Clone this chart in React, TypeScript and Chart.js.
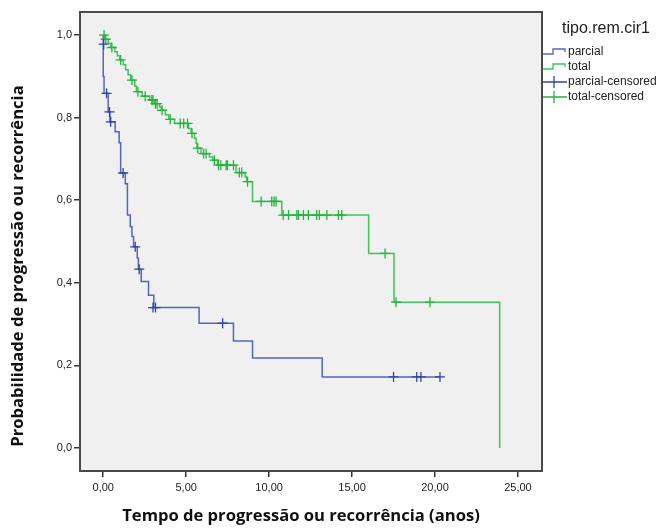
import React, { useEffect, useRef } from "react";
import { Chart, registerables } from "chart.js";

Chart.register(...registerables);

// ---- Data ----
// Kaplan–Meier steps: time of event and survival after it
const PARCIAL_T = [0, 0, 0.05, 0.3, 0.4, 0.72, 0.96, 1.05, 1.33, 1.46, 1.63, 1.73, 1.83, 2.05, 2.12, 2.29, 2.73, 3.05, 5.78, 7.85, 9.0, 13.2, 20.3];
const PARCIAL_S = [1.0, 0.978, 0.9, 0.859, 0.814, 0.79, 0.766, 0.739, 0.666, 0.64, 0.564, 0.536, 0.512, 0.487, 0.46, 0.433, 0.403, 0.37, 0.34, 0.302, 0.259, 0.218, 0.172, 0.172];
const PARCIAL_CENS_T = [0.03, 0.2, 0.38, 0.45, 1.2, 1.93, 2.17, 3.0, 3.15, 7.2, 17.5, 18.9, 19.15, 20.3];
const PARCIAL_CENS_S = [0.978, 0.859, 0.814, 0.79, 0.666, 0.487, 0.433, 0.34, 0.34, 0.302, 0.172, 0.172, 0.172, 0.172];

const TOTAL_T = [0, 0.1, 0.3, 0.45, 0.7, 0.85, 1.0, 1.2, 1.35, 1.5, 1.65, 1.9, 2.0, 2.35, 2.8, 3.1, 3.4, 3.5, 3.75, 3.95, 4.3, 5.15, 5.3, 5.5, 5.6, 5.65, 5.9, 6.4, 6.6, 6.9, 8.0, 8.55, 8.65, 9.0, 10.76, 16.0, 17.53, 23.9, 23.9];
const TOTAL_S = [1.0, 0.99, 0.98, 0.97, 0.96, 0.95, 0.94, 0.928, 0.916, 0.904, 0.891, 0.877, 0.863, 0.852, 0.843, 0.834, 0.826, 0.818, 0.807, 0.796, 0.786, 0.774, 0.762, 0.75, 0.738, 0.726, 0.713, 0.705, 0.697, 0.685, 0.667, 0.656, 0.645, 0.597, 0.564, 0.471, 0.353, 0.353, 0.0];
const TOTAL_CENS_T = [0.05, 0.15, 0.52, 1.05, 1.73, 2.09, 2.53, 2.93, 3.0, 3.15, 3.25, 3.55, 4.04, 4.64, 4.85, 5.08, 5.35, 5.7, 6.05, 6.2, 6.7, 6.95, 7.09, 7.41, 7.49, 7.85, 8.2, 8.35, 8.7, 9.52, 10.16, 10.3, 10.42, 10.85, 11.17, 11.67, 11.77, 12.07, 12.37, 12.87, 13.03, 13.48, 14.18, 14.38, 16.99, 17.65, 19.7];
const TOTAL_CENS_S = [1.0, 0.99, 0.97, 0.94, 0.891, 0.863, 0.852, 0.843, 0.843, 0.834, 0.834, 0.818, 0.796, 0.786, 0.786, 0.786, 0.762, 0.726, 0.713, 0.713, 0.697, 0.685, 0.685, 0.685, 0.685, 0.685, 0.667, 0.667, 0.645, 0.597, 0.597, 0.597, 0.597, 0.564, 0.564, 0.564, 0.564, 0.564, 0.564, 0.564, 0.564, 0.564, 0.564, 0.564, 0.471, 0.353, 0.353];

const X_TICKS = [0, 5, 10, 15, 20, 25];
const Y_TICKS = [0, 0.2, 0.4, 0.6, 0.8, 1.0];

const LEGEND_TITLE = "tipo.rem.cir1";
const X_TITLE = "Tempo de progressão ou recorrência (anos)";
const Y_TITLE = "Probabilidade de progressão ou recorrência";

// ---- Styles ----
const BLUE_LINE = "#5067c0";
const BLUE_MARK = "#2d45a8";
const GREEN_LINE = "#42c257";
const GREEN_MARK = "#26b23d";
const FONT = '"Liberation Sans", Arial, sans-serif';

function zip(t: number[], s: number[]) {
  return t.map((x, i) => ({ x, y: s[i] }));
}

const PARCIAL_LINE = [{ x: 0, y: 1.0 }, ...zip(PARCIAL_T, PARCIAL_S.slice(1))];

export default function App() {
  const ref = useRef<HTMLCanvasElement | null>(null);

  useEffect(() => {
    if (!ref.current) return;

    const framePlugin = {
      id: "frame",
      beforeDraw(chart: any) {
        const { ctx, chartArea: a } = chart;
        ctx.save();
        ctx.fillStyle = "#ffffff";
        ctx.fillRect(0, 0, chart.width, chart.height);
        ctx.fillStyle = "#f0f0f0";
        ctx.fillRect(a.left, a.top, a.right - a.left, a.bottom - a.top);
        ctx.restore();
      },
      afterDraw(chart: any) {
        const { ctx, chartArea: a } = chart;
        ctx.save();
        ctx.strokeStyle = "#4a4a4a";
        ctx.lineWidth = 2;
        ctx.strokeRect(a.left, a.top, a.right - a.left, a.bottom - a.top);

        // axis titles
        ctx.fillStyle = "#111";
        ctx.font = 'bold 16.6px "Open Sans", sans-serif';
        ctx.textAlign = "center";
        ctx.textBaseline = "middle";
        ctx.fillText(X_TITLE, 301, 516);
        ctx.save();
        ctx.translate(18, 266);
        ctx.rotate(-Math.PI / 2);
        ctx.fillText(Y_TITLE, 0, 0);
        ctx.restore();

        // legend
        ctx.fillStyle = "#222";
        ctx.font = "16px " + FONT;
        ctx.textAlign = "center";
        ctx.fillText(LEGEND_TITLE, 606, 29);
        const rows = [
          { label: "parcial", kind: "step", color: BLUE_LINE },
          { label: "total", kind: "step", color: GREEN_LINE },
          { label: "parcial-censored", kind: "cross", color: BLUE_MARK },
          { label: "total-censored", kind: "cross", color: GREEN_MARK },
        ];
        const x0 = a.right + 1;
        rows.forEach((r, i) => {
          const y = 52 + i * 15;
          ctx.strokeStyle = r.color;
          ctx.lineWidth = 1.3;
          ctx.beginPath();
          if (r.kind === "step") {
            ctx.moveTo(x0, y + 2);
            ctx.lineTo(x0 + 10, y + 2);
            ctx.lineTo(x0 + 10, y - 3);
            ctx.lineTo(x0 + 22, y - 3);
            ctx.lineTo(x0 + 22, y);
          } else {
            ctx.moveTo(x0, y);
            ctx.lineTo(x0 + 24, y);
            ctx.moveTo(x0 + 11, y - 6);
            ctx.lineTo(x0 + 11, y + 6);
          }
          ctx.stroke();
          ctx.fillStyle = "#222";
          ctx.font = "12px " + FONT;
          ctx.textAlign = "left";
          ctx.fillText(r.label, x0 + 25, y);
        });
        ctx.restore();
      },
    };

    const chart = new Chart(ref.current, {
      type: "scatter",
      data: {
        datasets: [
          {
            label: "parcial-censored",
            data: zip(PARCIAL_CENS_T, PARCIAL_CENS_S),
            pointStyle: "cross",
            pointRadius: 5,
            borderColor: BLUE_MARK,
            backgroundColor: BLUE_MARK,
            borderWidth: 1.3,
            showLine: false,
          },
          {
            label: "total-censored",
            data: zip(TOTAL_CENS_T, TOTAL_CENS_S),
            pointStyle: "cross",
            pointRadius: 5,
            borderColor: GREEN_MARK,
            backgroundColor: GREEN_MARK,
            borderWidth: 1.3,
            showLine: false,
          },
          {
            label: "total",
            data: zip(TOTAL_T, TOTAL_S),
            showLine: true,
            stepped: "before",
            pointRadius: 0,
            borderColor: GREEN_LINE,
            borderWidth: 1.5,
            fill: false,
          },
          {
            label: "parcial",
            data: PARCIAL_LINE,
            showLine: true,
            stepped: "before",
            pointRadius: 0,
            borderColor: BLUE_LINE,
            borderWidth: 1.5,
            fill: false,
          },
        ],
      },
      options: {
        animation: false,
        responsive: false,
        layout: { padding: { left: 0, top: 12, right: 120, bottom: 0 } },
        plugins: { legend: { display: false }, tooltip: { enabled: false } },
        scales: {
          x: {
            type: "linear",
            min: -1.4,
            max: 26.45,
            afterBuildTicks: (s: any) => {
              s.ticks = X_TICKS.map((v) => ({ value: v }));
            },
            afterFit: (s: any) => {
              s.height = 57;
            },
            ticks: {
              autoSkip: false,
              maxRotation: 0,
              padding: 4,
              color: "#222",
              font: { family: FONT, size: 11 },
              callback: (v: any) => Number(v).toFixed(2).replace(".", ","),
            },
            grid: { drawOnChartArea: false, drawTicks: true, tickLength: 6, color: "#333", lineWidth: 1.5 },
            border: { display: false },
          },
          y: {
            type: "linear",
            min: -0.056,
            max: 1.056,
            afterBuildTicks: (s: any) => {
              s.ticks = Y_TICKS.map((v) => ({ value: v }));
            },
            afterFit: (s: any) => {
              s.width = 80;
            },
            ticks: {
              autoSkip: false,
              padding: 2,
              color: "#222",
              font: { family: FONT, size: 11 },
              callback: (v: any) => Number(v).toFixed(1).replace(".", ","),
            },
            grid: { drawOnChartArea: false, drawTicks: true, tickLength: 6, color: "#333", lineWidth: 1.5 },
            border: { display: false },
          },
        },
      },
      plugins: [framePlugin],
    } as any);

    return () => chart.destroy();
  }, []);

  return (
    <div style={{ position: "fixed", left: 0, top: 0, width: 662, height: 528, background: "#fff" }}>
      <canvas ref={ref} width={662} height={528} style={{ display: "block" }} />
    </div>
  );
}
